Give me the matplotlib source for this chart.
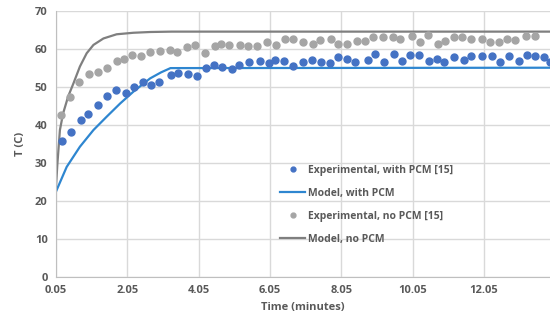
import matplotlib.pyplot as plt

# experimental, with PCM
t_pcm = [0.21, 0.47, 0.74, 0.96, 1.22, 1.48, 1.72, 2.01, 2.24, 2.48, 2.72, 2.95,
         3.27, 3.48, 3.74, 4.00, 4.26, 4.47, 4.71, 4.98, 5.19, 5.47, 5.77, 6.01,
         6.20, 6.44, 6.70, 6.97, 7.22, 7.49, 7.74, 7.96, 8.21, 8.43, 8.79, 8.99,
         9.26, 9.52, 9.74, 9.98, 10.22, 10.52, 10.72, 10.93, 11.20, 11.48, 11.69,
         11.98, 12.27, 12.51, 12.75, 13.02, 13.26, 13.48, 13.73, 13.90]
T_pcm = [35.8, 38.0, 41.2, 42.8, 45.2, 47.6, 49.1, 48.4, 49.8, 51.2, 50.5, 51.2,
         53.0, 53.5, 53.3, 52.9, 54.8, 55.7, 55.3, 54.6, 55.7, 56.4, 56.7, 56.2,
         57.0, 56.8, 55.4, 56.5, 57.0, 56.5, 56.2, 57.8, 57.2, 56.4, 57.0, 58.5,
         56.5, 58.6, 56.8, 58.4, 58.4, 56.7, 57.2, 56.6, 57.8, 57.0, 58.2,
         58.2, 58.2, 56.5, 58.2, 56.8, 58.3, 58.2, 57.7, 56.5]

# experimental, no PCM
t_nopcm = [0.18, 0.44, 0.70, 0.98, 1.24, 1.47, 1.75, 1.97, 2.18, 2.44, 2.69, 2.96,
           3.26, 3.45, 3.71, 3.94, 4.24, 4.51, 4.69, 4.91, 5.21, 5.43, 5.69, 5.97,
           6.23, 6.48, 6.70, 6.97, 7.25, 7.46, 7.77, 7.97, 8.21, 8.49, 8.70, 8.95,
           9.22, 9.51, 9.69, 10.03, 10.25, 10.49, 10.76, 10.97, 11.20, 11.42, 11.69,
           11.98, 12.23, 12.47, 12.69, 12.92, 13.22, 13.48]
T_nopcm = [42.6, 47.2, 51.2, 53.3, 54.0, 55.0, 56.9, 57.3, 58.3, 58.1, 59.1, 59.3,
           59.6, 59.1, 60.4, 61.1, 59.0, 60.8, 61.3, 61.0, 61.0, 60.7, 60.7, 61.9,
           60.9, 62.5, 62.5, 61.9, 61.3, 62.3, 62.5, 61.3, 61.2, 62.1, 62.1, 63.1,
           63.1, 63.1, 62.6, 63.3, 61.9, 63.6, 61.3, 62.1, 63.2, 63.1, 62.6,
           62.5, 61.7, 61.8, 62.6, 62.3, 63.3, 63.3]

# model, with PCM
t_model_pcm = [0.05, 0.35, 0.72, 1.10, 1.47, 1.85, 2.22, 2.69, 3.00, 3.26, 13.90]
T_model_pcm = [22.4, 28.9, 34.2, 38.6, 42.1, 45.6, 48.7, 52.2, 53.8, 54.9, 55.0]

# model, no PCM
t_model_no = [0.05, 0.09, 0.16, 0.25, 0.39, 0.54, 0.72, 0.91, 1.10, 1.38, 1.75,
              2.22, 2.69, 3.30, 13.90]
T_model_no = [23.7, 29.8, 38.6, 43.0, 47.4, 50.9, 55.3, 58.8, 61.0, 62.7, 63.8,
              64.2, 64.4, 64.5, 64.5]

xticks = [0.05, 2.05, 4.05, 6.05, 8.05, 10.05, 12.05]
yticks = [0, 10, 20, 30, 40, 50, 60, 70]

txt = '#595959'
plt.rcParams['font.family'] = ['Open Sans', 'DejaVu Sans']

fig = plt.figure(figsize=(5.5, 3.25), dpi=100)
ax = fig.add_axes([0.1018, 0.1486, 0.8982, 0.8184])

ax.plot(t_pcm, T_pcm, 'o', color='#4472C4', ms=5, label='Experimental, with PCM [15]', zorder=3)
ax.plot(t_model_pcm, T_model_pcm, '-', color='#2E86D0', lw=1.6, label='Model, with PCM', zorder=2)
ax.plot(t_nopcm, T_nopcm, 'o', color='#A5A5A5', ms=5, label='Experimental, no PCM [15]', zorder=3)
ax.plot(t_model_no, T_model_no, '-', color='#7F7F7F', lw=1.6, label='Model, no PCM', zorder=2)

ax.set_xlim(0.05, 13.90)
ax.set_ylim(0, 70)
ax.set_xticks(xticks)
ax.set_xticklabels([f'{v:.2f}' for v in xticks])
ax.set_yticks(yticks)
ax.grid(True, color='#D9D9D9', lw=1)
ax.set_axisbelow(True)
ax.tick_params(length=0, labelsize=8, labelcolor=txt, pad=6)
for lab in ax.get_xticklabels() + ax.get_yticklabels():
    lab.set_fontweight('bold')
for s in ['top', 'right']:
    ax.spines[s].set_visible(False)
for s in ['left', 'bottom']:
    ax.spines[s].set_color('#BFBFBF')

ax.set_xlabel('Time (minutes)', fontsize=8, color=txt, fontweight='bold', labelpad=4)
ax.set_ylabel('T (C)', fontsize=8, color=txt, fontweight='bold', labelpad=6)

leg = ax.legend(loc='upper left', bbox_to_anchor=(0.435, 0.455), frameon=False,
                fontsize=7.5, markerscale=0.7, handlelength=2.4, handletextpad=0.25,
                labelspacing=1.15)
for t in leg.get_texts():
    t.set_color(txt)
    t.set_fontweight('bold')

fig.savefig('out.png', dpi=100)
